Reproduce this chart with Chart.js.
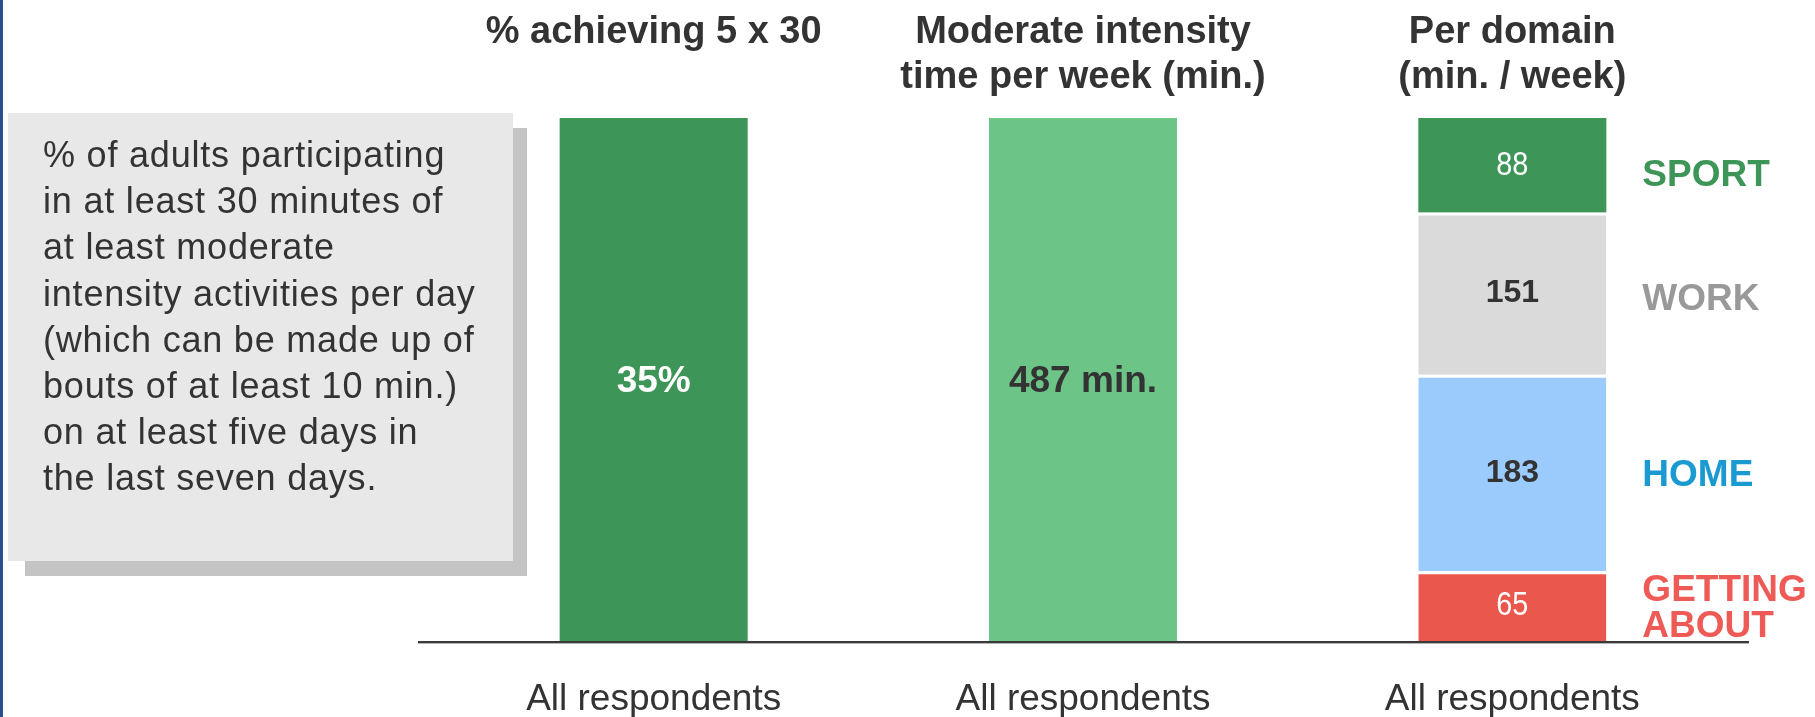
<!DOCTYPE html>
<html>
<head>
<meta charset="utf-8">
<script src="https://cdn.jsdelivr.net/npm/chart.js@4.4.1/dist/chart.umd.min.js"></script>
<style>
  html, body { margin: 0; padding: 0; background: #fff; }
  #wrap { width: 1815px; height: 717px; }
</style>
</head>
<body>
<div id="wrap"><canvas id="chart" width="1815" height="717"></canvas></div>
<script>
// data
var categories = ['All respondents', 'All respondents', 'All respondents'];
var columnTitles = [
  ['% achieving 5 x 30'],
  ['Moderate intensity', 'time per week (min.)'],
  ['Per domain', '(min. / week)']
];
var pctValues = [35, null, null];
var minValues = [null, 487, null];
var domainNames = ['GETTING ABOUT', 'HOME', 'WORK', 'SPORT'];
var domainValues = [65, 183, 151, 88];
var noteLines = [
  '% of adults participating',
  'in at least 30 minutes of',
  'at least moderate',
  'intensity activities per day',
  '(which can be made up of',
  'bouts of at least 10 min.)',
  'on at least five days in',
  'the last seven days.'
];

// styles
var SANS = "'Liberation Sans', Arial, sans-serif";
var domainBar = ['#e9574d', '#9acbfc', '#dadada', '#3d9657'];
var domainText = ['#ee5a55', '#1b9ad2', '#999999', '#3d9657'];
var domainTextShift = [3, 3, 6, 11];
var domainValueColor = ['#ffffff', '#333333', '#333333', '#ffffff'];
var domainValueNarrow = [true, false, false, true];

var datasets = [
  { label: '% achieving 5 x 30', data: pctValues, yAxisID: 'yPct', stack: 'a', backgroundColor: '#3d9657' },
  { label: 'Moderate intensity', data: minValues, yAxisID: 'yMin', stack: 'a', backgroundColor: '#6cc486' }
];
domainNames.forEach(function (name, k) {
  var d = [null, null, domainValues[k]];
  datasets.push({
    label: name, data: d, yAxisID: 'yMin', stack: 'a',
    backgroundColor: domainBar[k],
    borderColor: '#ffffff',
    borderWidth: k < domainNames.length - 1 ? { top: 3 } : 0
  });
});

var overlay = {
  id: 'overlay',
  beforeDraw: function (chart) {
    var ctx = chart.ctx;
    ctx.save();
    ctx.fillStyle = '#ffffff';
    ctx.fillRect(0, 0, chart.width, chart.height);
    ctx.fillStyle = '#2b4f91';
    ctx.fillRect(0, 0, 3, chart.height);
    // note box with shadow
    ctx.fillStyle = '#c4c4c4';
    ctx.fillRect(25, 128, 502, 448);
    ctx.fillStyle = '#e8e8e8';
    ctx.fillRect(8, 113, 505, 448);
    ctx.fillStyle = '#333333';
    ctx.font = '36px ' + SANS;
    ctx.letterSpacing = '0.8px';
    ctx.textAlign = 'left';
    ctx.textBaseline = 'alphabetic';
    noteLines.forEach(function (t, i) { ctx.fillText(t, 43, 167 + i * 46.2); });
    ctx.restore();
  },
  afterDatasetsDraw: function (chart) {
    var ctx = chart.ctx, x = chart.scales.x, area = chart.chartArea;
    ctx.save();
    ctx.letterSpacing = '0px';

    // column titles
    ctx.fillStyle = '#333333';
    ctx.font = 'bold 38px ' + SANS;
    ctx.textAlign = 'center';
    ctx.textBaseline = 'alphabetic';
    columnTitles.forEach(function (lines, i) {
      var cx = x.getPixelForValue(i);
      lines.forEach(function (t, j) { ctx.fillText(t, cx, 43 + j * 45); });
    });

    // values in the two single bars
    ctx.font = 'bold 37px ' + SANS;
    ctx.textBaseline = 'middle';
    var b0 = chart.getDatasetMeta(0).data[0];
    ctx.fillStyle = '#ffffff';
    ctx.fillText(pctValues[0] + '%', b0.x, (b0.y + b0.base) / 2 + 2);
    var b1 = chart.getDatasetMeta(1).data[1];
    ctx.fillStyle = '#333333';
    ctx.fillText(minValues[1] + ' min.', b1.x, (b1.y + b1.base) / 2 + 2);

    // stacked domain values and names
    domainNames.forEach(function (name, k) {
      var el = chart.getDatasetMeta(2 + k).data[2];
      var cy = (el.y + el.base) / 2;
      ctx.fillStyle = domainValueColor[k];
      ctx.textAlign = 'center';
      if (domainValueNarrow[k]) {
        ctx.save();
        ctx.translate(el.x, cy);
        ctx.scale(0.85, 1);
        ctx.font = '34px ' + SANS;
        ctx.fillText(String(domainValues[k]), 0, 0);
        ctx.restore();
      } else {
        ctx.font = 'bold 32px ' + SANS;
        ctx.fillText(String(domainValues[k]), el.x, cy);
      }
      var words = name.split(' ');
      ctx.fillStyle = domainText[k];
      ctx.textAlign = 'left';
      ctx.font = 'bold 37px ' + SANS;
      words.forEach(function (w, j) {
        ctx.fillText(w, el.x + el.width / 2 + 36, cy + domainTextShift[k] + (j - (words.length - 1) / 2) * 36);
      });
    });

    // baseline
    var y0 = chart.scales.yMin.getPixelForValue(0);
    ctx.fillStyle = '#3a3a3a';
    ctx.fillRect(area.left - 21, y0, area.right - area.left + 43, 2);
    ctx.fillStyle = '#b5b5b5';
    ctx.fillRect(area.left - 21, y0 + 2, area.right - area.left + 43, 1);
    ctx.restore();
  }
};

new Chart(document.getElementById('chart').getContext('2d'), {
  type: 'bar',
  data: { labels: categories, datasets: datasets },
  options: {
    responsive: false,
    animation: false,
    devicePixelRatio: 1,
    layout: { padding: { left: 439, right: 88, top: 118, bottom: 0 } },
    barPercentage: 0.438,
    categoryPercentage: 1,
    plugins: { legend: { display: false }, tooltip: { enabled: false } },
    scales: {
      x: {
        stacked: true,
        grid: { display: false, drawTicks: false },
        border: { display: false },
        ticks: { color: '#333333', font: { family: SANS, size: 37 }, padding: 37, maxRotation: 0, autoSkip: false },
        afterFit: function (scale) { scale.height = 76; }
      },
      yPct: { display: false, min: 0, max: 35 },
      yMin: { display: false, stacked: true, min: 0, max: 487 }
    }
  },
  plugins: [overlay]
});
</script>
</body>
</html>
